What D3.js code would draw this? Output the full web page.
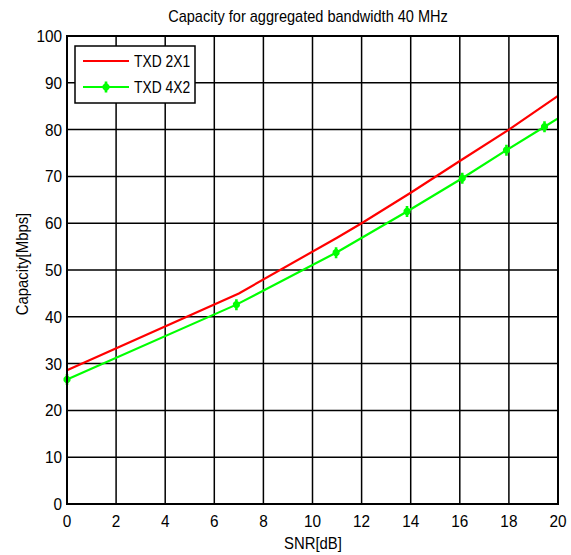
<!DOCTYPE html>
<html>
<head>
<meta charset="utf-8">
<script src="https://cdn.jsdelivr.net/npm/d3@7"></script>
<style>
    body { margin: 0; background: #fff; }
    .text { font-family: "Liberation Sans", Arial, Helvetica, sans-serif; fill: #000; }
</style>
</head>
<body>
<div id="chart"></div>
<script>
// Data
const txd2x1Snr = [0, 7, 11, 12, 14, 16, 18, 20];
const txd2x1Cap = [28.6, 45.0, 56.9, 60.0, 66.5, 73.3, 80.0, 87.2];
const txd4x2Snr = [0, 6.9, 10.96, 13.85, 16.1, 17.9, 19.45, 20];
const txd4x2Cap = [26.6, 42.6, 53.7, 62.5, 69.6, 75.6, 80.6, 82.4];
const txd4x2Markers = [true, true, true, true, true, true, true, false];
const xTicks = [0, 2, 4, 6, 8, 10, 12, 14, 16, 18, 20];
const yTicks = [0, 10, 20, 30, 40, 50, 60, 70, 80, 90, 100];
const seriesNames = ["TXD 2X1", "TXD 4X2"];
const seriesColors = ["#ff0000", "#00ff00"];

const dimensions = {
    width: 571,
    height: 555,
    margins: { top: 36, right: 13, bottom: 51, left: 67 }
};
dimensions.bordWidth = dimensions.width - dimensions.margins.left - dimensions.margins.right;
dimensions.bordHeight = dimensions.height - dimensions.margins.top - dimensions.margins.bottom;

const svg = d3.select("#chart")
    .append("svg")
    .attr("width", dimensions.width)
    .attr("height", dimensions.height);

const borders = svg.append("g")
    .attr("transform", `translate(${dimensions.margins.left}, ${dimensions.margins.top})`);

const xScale = d3.scaleLinear().domain([0, 20]).range([0, dimensions.bordWidth]);
const yScale = d3.scaleLinear().domain([0, 100]).range([dimensions.bordHeight, 0]);

// text with a slightly condensed look, like the original
const addText = (parent, x, y, str, size, sx, anchor, rotate = 0) =>
    parent.append("text")
        .attr("class", "text")
        .attr("transform", `translate(${x}, ${y}) rotate(${rotate}) scale(${sx}, 1)`)
        .attr("text-anchor", anchor)
        .style("font-size", size + "px")
        .text(str);

// Grid
borders.append("g")
    .selectAll("line")
    .data(xTicks)
    .join("line")
    .attr("x1", d => xScale(d)).attr("x2", d => xScale(d))
    .attr("y1", 0).attr("y2", dimensions.bordHeight)
    .attr("stroke", "#000").attr("stroke-width", 1.5);

borders.append("g")
    .selectAll("line")
    .data(yTicks)
    .join("line")
    .attr("y1", d => yScale(d)).attr("y2", d => yScale(d))
    .attr("x1", 0).attr("x2", dimensions.bordWidth)
    .attr("stroke", "#000").attr("stroke-width", 1.5);

// Tick labels
const xLabels = borders.append("g");
xTicks.forEach(d => addText(xLabels, xScale(d), dimensions.bordHeight + 23, d, 16.5, 0.93, "middle"));
const yLabels = borders.append("g");
yTicks.forEach(d => addText(yLabels, -5, yScale(d) + 6, d, 16.5, 0.93, "end"));

// Lines
const line = d3.line().x(d => xScale(d[0])).y(d => yScale(d[1]));
const data2x1 = txd2x1Snr.map((s, i) => [s, txd2x1Cap[i]]);
const data4x2 = txd4x2Snr.map((s, i) => [s, txd4x2Cap[i]]);

const plot = borders.append("g");
plot.append("path")
    .datum(data2x1)
    .attr("d", line)
    .attr("fill", "none")
    .attr("stroke", seriesColors[0])
    .attr("stroke-width", 2.2);

plot.append("path")
    .datum(data4x2)
    .attr("d", line)
    .attr("fill", "none")
    .attr("stroke", seriesColors[1])
    .attr("stroke-width", 2.2);

// star marker
const markerPath = "M0,-5.5L0,5.5M-3.5,0L3.5,0M-2.5,-2.5L2.5,2.5M-2.5,2.5L2.5,-2.5";
plot.selectAll("path.marker")
    .data(data4x2.filter((d, i) => txd4x2Markers[i]))
    .join("path")
    .attr("class", "marker")
    .attr("transform", d => `translate(${xScale(d[0])}, ${yScale(d[1])})`)
    .attr("d", markerPath)
    .attr("fill", "none")
    .attr("stroke", seriesColors[1])
    .attr("stroke-width", 2.6);

// Axes box
borders.append("rect")
    .attr("x", 0).attr("y", 0)
    .attr("width", dimensions.bordWidth)
    .attr("height", dimensions.bordHeight)
    .attr("fill", "none")
    .attr("stroke", "#000")
    .attr("stroke-width", 2);

// Title and axis labels
addText(svg, 308, 22, "Capacity for aggregated bandwidth 40 MHz", 16, 0.91, "middle");
addText(svg, 313, 549, "SNR[dB]", 16, 0.93, "middle");
addText(svg, 28, 264, "Capacity[Mbps]", 16, 0.93, "middle", -90);

// Legend
const legend = svg.append("g")
    .attr("transform", "translate(75, 46)");

legend.append("rect")
    .attr("width", 120)
    .attr("height", 57)
    .attr("fill", "#fff")
    .attr("stroke", "#000")
    .attr("stroke-width", 1.5);

seriesNames.forEach((name, i) => {
    const y = 15 + i * 26;
    legend.append("line")
        .attr("x1", 8).attr("x2", 54)
        .attr("y1", y).attr("y2", y)
        .attr("stroke", seriesColors[i])
        .attr("stroke-width", 2.2);
    if (i === 1) {
        legend.append("path")
            .attr("transform", `translate(31, ${y})`)
            .attr("d", markerPath)
            .attr("fill", "none")
            .attr("stroke", seriesColors[i])
            .attr("stroke-width", 2.6);
    }
    addText(legend, 59, y + 6, name, 16.5, 0.84, "start");
});
</script>
</body>
</html>
